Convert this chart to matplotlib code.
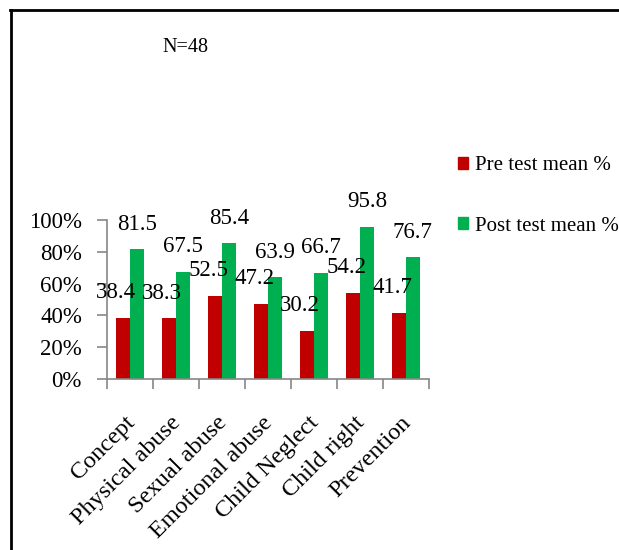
import numpy as np
import matplotlib
matplotlib.use('Agg')
import matplotlib.pyplot as plt
import matplotlib.transforms as mtransforms
from matplotlib.patches import Patch
from matplotlib.lines import Line2D
from matplotlib.ticker import PercentFormatter

plt.rcParams['font.family'] = ['Liberation Serif', 'DejaVu Serif']

categories = ['Concept', 'Physical abuse', 'Sexual abuse', 'Emotional abuse',
              'Child Neglect', 'Child right', 'Prevention']
pre_test = [38.4, 38.3, 52.5, 47.2, 30.2, 54.2, 41.7]
post_test = [81.5, 67.5, 85.4, 63.9, 66.7, 95.8, 76.7]
series_names = ['Pre test mean %', 'Post test mean %']
sample_note = 'N=48'

red = '#C00000'
green = '#00B050'
grey = '#868686'

fig = plt.figure(figsize=(6.19, 5.5), dpi=100)
ax = fig.add_axes([107 / 619, 1 - 379 / 550, 322 / 619, 159 / 550])

x = np.arange(len(categories))
w = 0.30
ax.bar(x - w / 2, pre_test, w, color=red)
ax.bar(x + w / 2, post_test, w, color=green)

# value labels above each bar
for i in range(len(categories)):
    ax.annotate(f'{pre_test[i]:.1f}', (x[i] - w / 2, pre_test[i]),
                xytext=(-5, 18), textcoords='offset points',
                ha='center', va='center', fontsize=16.5)
    ax.annotate(f'{post_test[i]:.1f}', (x[i] + w / 2, post_test[i]),
                xytext=(0, 18), textcoords='offset points',
                ha='center', va='center', fontsize=16.5)

ax.set_xlim(-0.5, len(categories) - 0.5)
ax.set_ylim(0, 100)
ax.set_yticks(np.arange(0, 101, 20))
ax.yaxis.set_major_formatter(PercentFormatter(decimals=0))

ax.set_xticks(x)
ax.set_xticklabels(categories, rotation=45, ha='right', rotation_mode='anchor')
ax.set_xticks(np.arange(-0.5, len(categories)), minor=True)
ax.tick_params(axis='x', which='major', length=0, pad=24, labelsize=17.5)
ax.tick_params(axis='x', which='minor', length=7, color=grey, width=1.2)
ax.tick_params(axis='y', length=7, color=grey, width=1.2, pad=11, labelsize=16.5)

# nudge the slanted category labels a little to the left
shift = mtransforms.ScaledTranslation(-0.06, 0, fig.dpi_scale_trans)
for lbl in ax.get_xticklabels():
    lbl.set_transform(lbl.get_transform() + shift)

for side in ['top', 'right']:
    ax.spines[side].set_visible(False)
for side in ['left', 'bottom']:
    ax.spines[side].set_color(grey)
    ax.spines[side].set_linewidth(1.2)

handles = [Patch(color=red), Patch(color=green)]
fig.legend(handles, series_names, loc='upper left', bbox_to_anchor=(458 / 619, 1 - 156 / 550),
           frameon=False, fontsize=15, handlelength=0.5, handleheight=0.5,
           handletextpad=0.3, labelspacing=2.0, borderpad=0, borderaxespad=0)

fig.text(185 / 619, 1 - 47 / 550, sample_note, ha='center', va='center', fontsize=14.5)

# outer frame (top and left edges)
fig.add_artist(Line2D([11 / 619, 11 / 619], [0, 1 - 10 / 550], color='black', lw=2, transform=fig.transFigure))
fig.add_artist(Line2D([10 / 619, 1], [1 - 10 / 550, 1 - 10 / 550], color='black', lw=2, transform=fig.transFigure))

fig.savefig('out.png', dpi=100)
